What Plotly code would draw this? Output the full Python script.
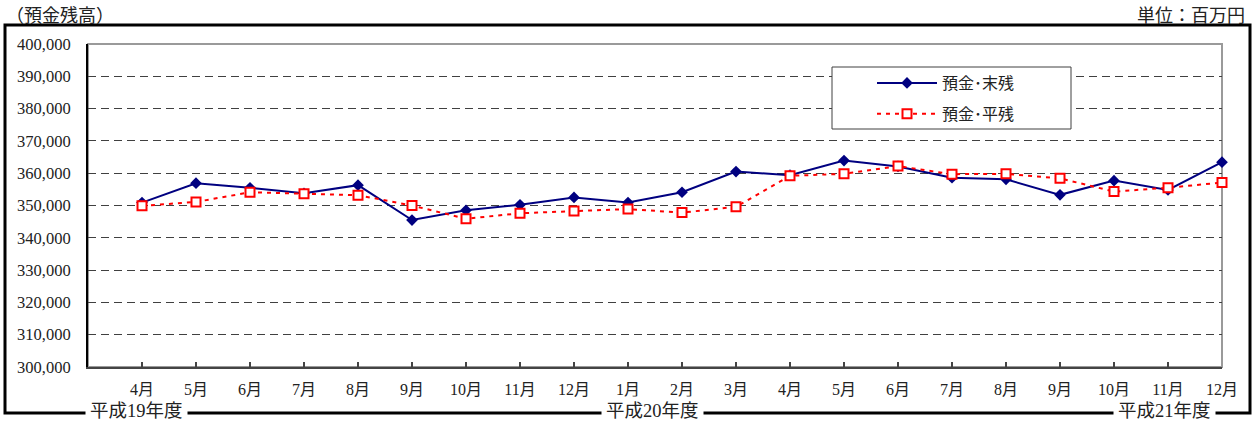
import plotly.graph_objects as go

months = ["4月", "5月", "6月", "7月", "8月", "9月", "10月", "11月", "12月", "1月", "2月", "3月",
          "4月", "5月", "6月", "7月", "8月", "9月", "10月", "11月", "12月"]
matsuzan = [350900, 356900, 355500, 353800, 356300, 345500, 348500, 350200, 352500, 350900, 354100, 360500,
            359400, 363900, 362100, 358600, 358100, 353300, 357700, 354800, 363400]
heizan = [349900, 351100, 354100, 353600, 353200, 350000, 345900, 347600, 348300, 348900, 347800, 349600,
          359200, 359800, 362200, 359700, 359800, 358400, 354300, 355500, 357100]
y_ticks = list(range(300000, 400001, 10000))
y_labels = [f"{v:,}" for v in y_ticks]
fy_labels = ["平成19年度", "平成20年度", "平成21年度"]
fy_pos = [0.0432, 0.4982, 0.9497]

idx = list(range(len(months)))

JP = "Noto Sans CJK JP"
SERIF = "Liberation Serif, Noto Sans CJK JP"

fig = go.Figure()
fig.add_trace(go.Scatter(
    x=idx, y=matsuzan, name="預金･末残", mode="lines+markers", legendgroup="a",
    line=dict(color="#000080", width=2),
    marker=dict(symbol="diamond", size=9, color="#000080"),
    cliponaxis=False,
))
fig.add_trace(go.Scatter(
    x=idx, y=heizan, name="預金･平残", mode="lines+markers", legendgroup="b",
    line=dict(color="#FF0000", width=2, dash="4px,5px"),
    marker=dict(symbol="square", size=9, color="white", line=dict(color="#FF0000", width=2)),
    cliponaxis=False,
))

W, H = 1256, 423
L, R, T, B = 88, 34, 44, 56
pw, ph = W - L - R, H - T - B

def px(x):
    return (x - L) / pw

def py(y):
    return (H - B - y) / ph

shapes = [
    # plot area border (grey)
    dict(type="rect", xref="paper", yref="paper", x0=0, x1=1, y0=0, y1=1,
         line=dict(color="#9a9a9a", width=2), layer="below"),
    # outer frame
    dict(type="rect", xref="paper", yref="paper", x0=px(5), x1=px(1250), y0=py(413), y1=py(25),
         line=dict(color="black", width=3), layer="below"),
    # legend box
    dict(type="rect", xref="paper", yref="paper", x0=px(832), x1=px(1071), y0=py(129), y1=py(67),
         line=dict(color="#404040", width=1), fillcolor="white", layer="above"),
]

annotations = [
    dict(text="（預金残高）", xref="paper", yref="paper", x=px(5), y=py(0), xanchor="left", yanchor="top",
         showarrow=False, borderpad=0, font=dict(family=JP, size=18, color="#222")),
    dict(text="単位：百万円", xref="paper", yref="paper", x=px(1246), y=py(0), xanchor="right", yanchor="top",
         showarrow=False, borderpad=0, font=dict(family=JP, size=18, color="#222")),
]
for lab, xp in zip(fy_labels, fy_pos):
    annotations.append(dict(text=lab, xref="paper", yref="paper", x=xp, y=py(411), xanchor="center",
                            yanchor="middle", showarrow=False, bgcolor="white", borderpad=4,
                            font=dict(family=SERIF, size=18.5, color="#222")))

fig.update_layout(
    width=W, height=H,
    margin=dict(l=L, r=R, t=T, b=B, pad=0),
    paper_bgcolor="white", plot_bgcolor="white",
    showlegend=True,
    legend=dict(x=px(872), y=py(66), xanchor="left", yanchor="top", bgcolor="rgba(0,0,0,0)",
                font=dict(family=JP, size=16, color="#222"), traceorder="grouped", tracegroupgap=7,
                itemwidth=60),
    shapes=shapes,
    annotations=annotations,
    xaxis=dict(range=[-1, 20], tickmode="array", tickvals=idx, ticktext=months,
               ticks="inside", ticklen=5, tickcolor="#444", tickwidth=1.5,
               showline=True, linecolor="#444", linewidth=2, showgrid=False, zeroline=False,
               tickfont=dict(family=SERIF, size=16, color="#222"), ticklabelstandoff=7,
               fixedrange=True),
    yaxis=dict(range=[300000, 400000], tickmode="array", tickvals=y_ticks, ticktext=y_labels,
               ticks="", showline=True, linecolor="black", linewidth=2,
               showgrid=True, gridcolor="#404040", gridwidth=1, griddash="8px,5px", zeroline=False,
               tickfont=dict(family=SERIF, size=16.5, color="#222"), ticklabelstandoff=12,
               fixedrange=True),
)

fig.write_html("out.html", config={"displayModeBar": False},
               post_script="document.body.style.margin='0';document.body.style.overflow='hidden';")
